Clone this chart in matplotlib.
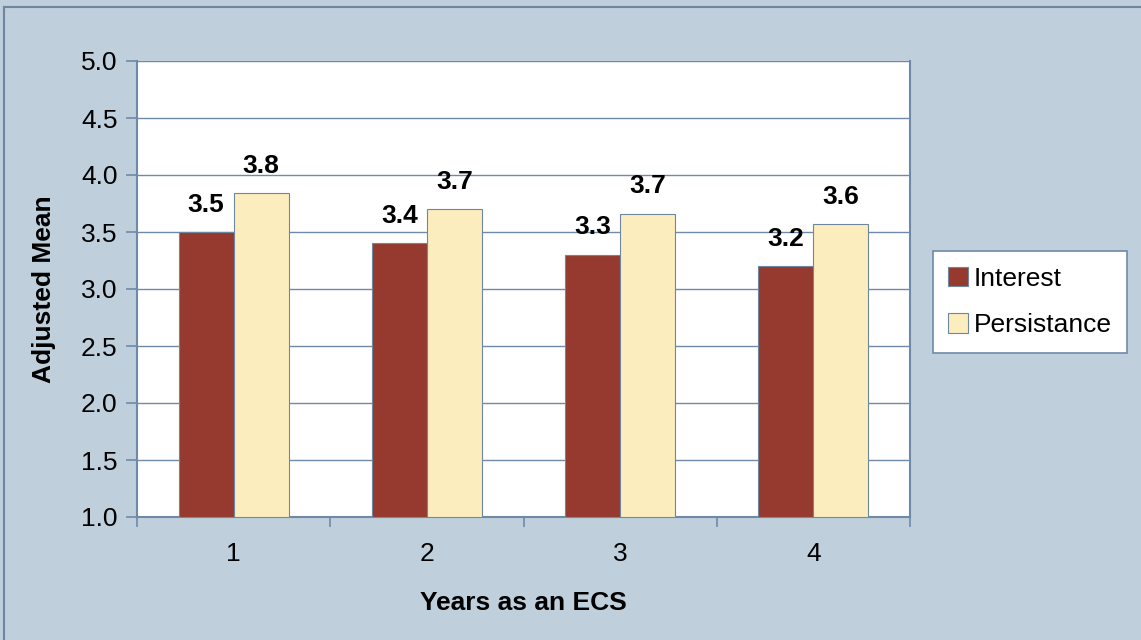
import matplotlib
matplotlib.use("Agg")
import matplotlib.pyplot as plt
import numpy as np

plt.rcParams['font.family'] = ['Liberation Sans', 'DejaVu Sans']

categories = ['1', '2', '3', '4']
interest = [3.50, 3.40, 3.30, 3.20]
persistance = [3.84, 3.70, 3.66, 3.57]
series_names = ['Interest', 'Persistance']
y_ticks = [1.0, 1.5, 2.0, 2.5, 3.0, 3.5, 4.0, 4.5, 5.0]

bg = '#BFCFDC'
grid_c = '#6F8AA8'
fs = 19
fig = plt.figure(figsize=(11.41, 6.40), dpi=100, facecolor=bg)

# outer border (top and left visible)
fig.add_artist(plt.Line2D([4/1141, 4/1141], [0, 1 - 7/640], transform=fig.transFigure,
                          color='#6F86A0', lw=1.5))
fig.add_artist(plt.Line2D([4/1141, 1], [1 - 7/640, 1 - 7/640], transform=fig.transFigure,
                          color='#6F86A0', lw=1.5))

ax = fig.add_axes([137/1141, 1 - 517/640, (910 - 137)/1141, (517 - 61)/640])
ax.set_facecolor('white')

x = np.arange(len(categories))
w = 0.284
b1 = ax.bar(x - w/2, np.array(interest) - 1.0, w, bottom=1.0, color='#963A2F',
            edgecolor='#6F86A0', linewidth=0.8, label=series_names[0], zorder=3)
b2 = ax.bar(x + w/2, np.array(persistance) - 1.0, w, bottom=1.0, color='#FCEDBE',
            edgecolor='#6F86A0', linewidth=0.8, label=series_names[1], zorder=3)

for xi, v in zip(x - w/2, interest):
    ax.text(xi, v + 0.24, f'{v:.1f}', ha='center', va='center', fontsize=fs,
            fontweight='bold', zorder=4)
for xi, v in zip(x + w/2, persistance):
    ax.text(xi, v + 0.24, f'{v:.1f}', ha='center', va='center', fontsize=fs,
            fontweight='bold', zorder=4)

ax.set_ylim(1.0, 5.0)
ax.set_xlim(-0.5, len(categories) - 0.5)
ax.set_yticks(y_ticks)
ax.set_yticklabels([f'{t:.1f}' for t in y_ticks], fontsize=fs)
ax.yaxis.grid(True, color=grid_c, lw=1.0, zorder=1)
ax.set_axisbelow(True)

ax.set_xticks(x)
ax.set_xticklabels(categories, fontsize=fs)
ax.set_xticks(np.arange(len(categories) + 1) - 0.5, minor=True)
ax.tick_params(axis='x', which='major', length=0, pad=18)
ax.tick_params(axis='x', which='minor', length=7, direction='out', color=grid_c, width=1.2)
ax.tick_params(axis='y', length=8, direction='out', color=grid_c, width=1.2, pad=6)

for s in ['left', 'bottom', 'right']:
    ax.spines[s].set_color(grid_c)
    ax.spines[s].set_linewidth(1.5)
ax.spines['top'].set_visible(False)

ax.set_xlabel('Years as an ECS', fontsize=fs, fontweight='bold', labelpad=18)
ax.set_ylabel('Adjusted Mean', fontsize=fs, fontweight='bold', labelpad=18)

leg = fig.legend(handles=[b1, b2], labels=series_names,
                 loc='center', bbox_to_anchor=((934 + 1126) / 2 / 1141, 1 - (250 + 354) / 2 / 640),
                 fontsize=fs, frameon=True, fancybox=False, framealpha=1,
                 facecolor='white', handlelength=0.75,
                 handleheight=0.75, handletextpad=0.2, labelspacing=0.85,
                 borderpad=0.6, borderaxespad=0)
leg.get_frame().set_edgecolor(grid_c)
leg.get_frame().set_linewidth(1.2)

fig.savefig('out.png', dpi=100, facecolor=bg)
